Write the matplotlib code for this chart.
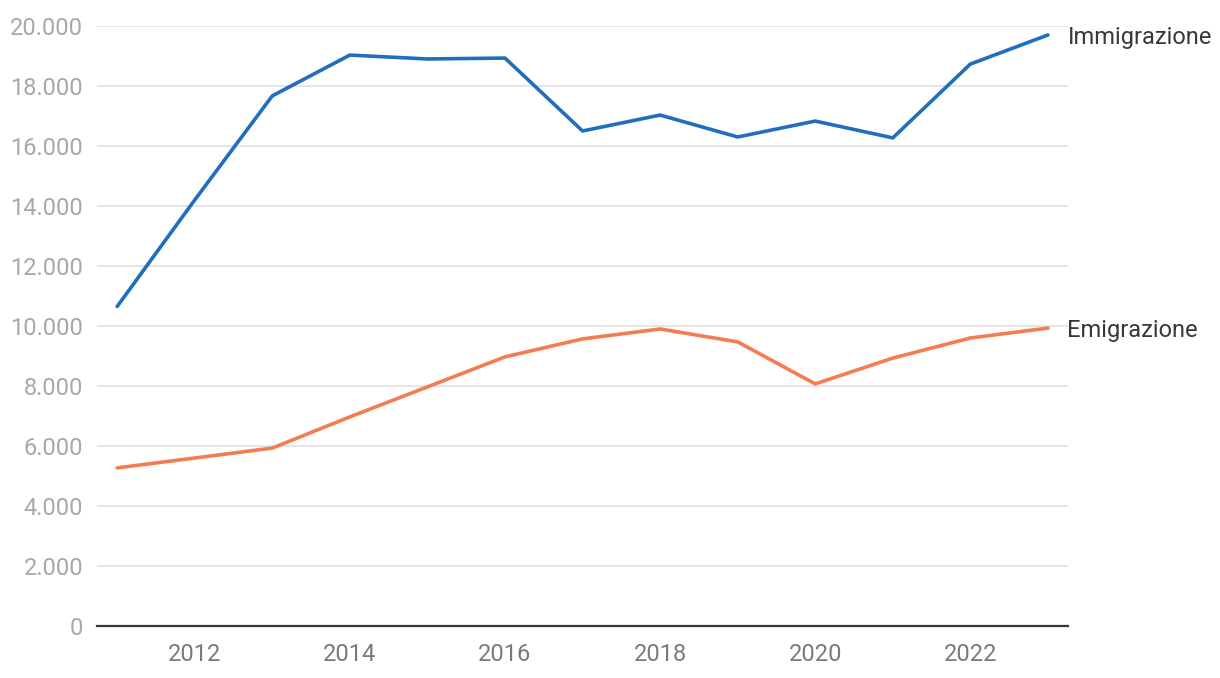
import matplotlib.pyplot as plt
from matplotlib.ticker import FuncFormatter

plt.rcParams['font.family'] = ['Roboto', 'DejaVu Sans']

years = [2011, 2012, 2013, 2014, 2015, 2016, 2017, 2018, 2019, 2020, 2021, 2022, 2023]
immigrazione = [10650, 14200, 17670, 19030, 18900, 18930, 16500, 17030, 16300, 16830, 16270, 18730, 19700]
emigrazione = [5270, 5600, 5930, 6970, 7970, 8970, 9570, 9900, 9470, 8070, 8930, 9600, 9930]

blue = '#1f6fbd'
orange = '#f47c52'

fig = plt.figure(figsize=(12.2, 6.78), dpi=100)
ax = fig.add_axes([0.0795, 0.0767, 0.796, 0.885])

ax.plot(years, immigrazione, color=blue, lw=2.6, solid_capstyle='round')
ax.plot(years, emigrazione, color=orange, lw=2.6, solid_capstyle='round')

# etichette a fine linea
for nome, serie in [('Immigrazione', immigrazione), ('Emigrazione', emigrazione)]:
    ax.annotate(nome, (years[-1], serie[-1]), xytext=(14, -2),
                textcoords='offset points', va='center', ha='left',
                fontsize=17, color='#383838', annotation_clip=False)

ax.set_xlim(2010.74, 2023.26)
ax.set_ylim(0, 20000)
ax.set_yticks(range(0, 20001, 2000))
ax.set_xticks([2012, 2014, 2016, 2018, 2020, 2022])
ax.yaxis.set_major_formatter(FuncFormatter(lambda v, p: f'{int(v):,}'.replace(',', '.')))

ax.grid(axis='y', color='#e3e3e3', lw=1.3)
ax.set_axisbelow(True)
for s in ['top', 'right', 'left']:
    ax.spines[s].set_visible(False)
ax.spines['bottom'].set_color('#333333')
ax.spines['bottom'].set_linewidth(1.6)

ax.tick_params(axis='y', length=0, pad=10, labelsize=17, labelcolor='#a8a8a8')
ax.tick_params(axis='x', length=0, pad=12, labelsize=17, labelcolor='#7a7a7a')

fig.savefig('out.png', dpi=100)
